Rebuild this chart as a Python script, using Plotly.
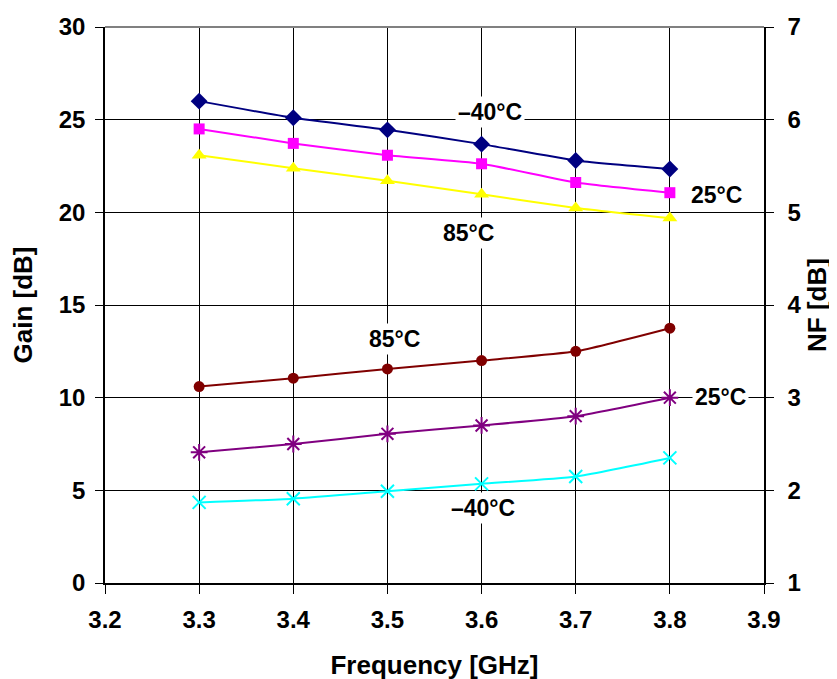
import plotly.graph_objects as go

freq = [3.3, 3.4, 3.5, 3.6, 3.7, 3.8]

gain_m40 = [26.0, 25.1, 24.45, 23.68, 22.8, 22.34]
gain_25 = [24.5, 23.72, 23.08, 22.62, 21.61, 21.06]
gain_85 = [23.08, 22.38, 21.7, 20.97, 20.24, 19.69]

nf_85 = [3.12, 3.21, 3.31, 3.40, 3.50, 3.75]
nf_25 = [2.41, 2.50, 2.61, 2.70, 2.80, 3.00]
nf_m40 = [1.87, 1.91, 1.99, 2.07, 2.15, 2.35]

x_ticks = [3.2, 3.3, 3.4, 3.5, 3.6, 3.7, 3.8, 3.9]
gain_ticks = [0, 5, 10, 15, 20, 25, 30]
nf_ticks = [1, 2, 3, 4, 5, 6, 7]

FONT = "Liberation Sans"
fs_tick = 24
fs_title = 26
fs_ann = 23

fig = go.Figure()

def add(y, color, symbol, size, axis="y", lw=0):
    fig.add_trace(go.Scatter(
        x=freq, y=y, yaxis=axis, mode="lines+markers",
        line=dict(color=color, width=2, shape="spline", smoothing=0.5),
        marker=dict(symbol=symbol, size=size, color=color,
                    line=dict(color=color, width=lw)),
        showlegend=False, cliponaxis=False))

add(gain_m40, "#000080", "diamond", 13)
add(gain_25, "#FF00FF", "square", 11)
add(gain_85, "#FFFF00", "triangle-up", 13)
add(nf_85, "#800000", "circle", 11, "y2")
add(nf_25, "#800080", "asterisk-open", 14, "y2", 2)
add(nf_m40, "#00FFFF", "x-thin-open", 13, "y2", 2)

labels = [
    ("\u201340\u00b0C", 3.609, 25.42),
    ("25\u00b0C", 3.850, 20.94),
    ("85\u00b0C", 3.586, 18.89),
    ("85\u00b0C", 3.508, 13.17),
    ("25\u00b0C", 3.854, 10.04),
    ("\u201340\u00b0C", 3.602, 4.05),
]
for t, x, y in labels:
    fig.add_annotation(x=x, y=y, xref="x", yref="y", text=t, showarrow=False,
                       bgcolor="white", borderpad=2,
                       font=dict(family=FONT, size=fs_ann, color="black", weight="bold"))

# gray top border
fig.add_shape(type="line", xref="paper", yref="paper", x0=0, x1=1, y0=1, y1=1,
              line=dict(color="#808080", width=2))

fig.update_layout(
    width=837, height=679,
    margin=dict(l=97, r=81, t=19, b=104, autoexpand=False),
    paper_bgcolor="white", plot_bgcolor="white",
    font=dict(family=FONT, size=fs_tick, color="black", weight="bold"),
    xaxis=dict(range=[3.2, 3.9], tickvals=x_ticks, ticktext=[f"{v:.1f}" for v in x_ticks],
               showgrid=True, gridcolor="black", gridwidth=1, automargin=False,
               showline=True, linecolor="black", linewidth=2,
               ticks="outside", ticklen=9, tickcolor="black", ticklabelstandoff=5,
               title=dict(text="Frequency [GHz]", standoff=24,
                          font=dict(family=FONT, size=fs_title, weight="bold")),
               zeroline=False),
    yaxis=dict(range=[0, 30], tickvals=gain_ticks, automargin=False,
               showgrid=True, gridcolor="black", gridwidth=1,
               showline=True, linecolor="black", linewidth=1.5,
               ticks="outside", ticklen=8, tickcolor="black", ticklabelstandoff=5,
               title=dict(text="Gain [dB]", standoff=26,
                          font=dict(family=FONT, size=fs_title, weight="bold")),
               zeroline=False),
    yaxis2=dict(range=[1, 7], tickvals=nf_ticks, overlaying="y", side="right",
                automargin=False,
                showgrid=False, showline=True, linecolor="black", linewidth=1.5,
                ticks="outside", ticklen=8, tickcolor="black", ticklabelstandoff=9,
                title=dict(text="NF [dB]", standoff=2,
                           font=dict(family=FONT, size=fs_title, weight="bold")),
                zeroline=False),
)

fig.write_html("out.html")
